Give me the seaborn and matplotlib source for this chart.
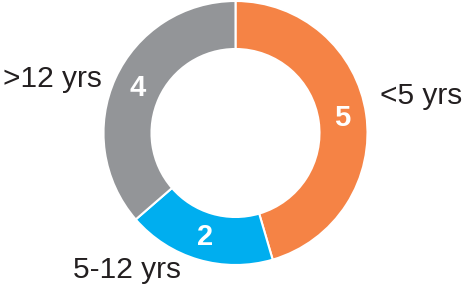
import matplotlib
matplotlib.use("Agg")
import matplotlib.pyplot as plt
import seaborn as sns

categories = ["<5 yrs", "5-12 yrs", ">12 yrs"]
values = [5, 2, 4]
colors = ["#F58345", "#00AEEF", "#939598"]

sns.set_theme(style="white")
plt.rcParams['font.family'] = ['Liberation Sans', 'DejaVu Sans']

W, H = 467, 291
fig = plt.figure(figsize=(W / 100, H / 100), dpi=100)
ax = fig.add_axes([0, 0, 1, 1])

R_OUT, R_IN = 132, 84
center = (235.5, H - 133)
total = sum(values)

wedges, _, autotexts = ax.pie(
    values, colors=colors, startangle=90, counterclock=False,
    radius=R_OUT, center=center, frame=True,
    wedgeprops=dict(width=R_OUT - R_IN, edgecolor="white", linewidth=1.5),
    autopct=lambda p: f"{round(p * total / 100)}",
    pctdistance=(R_OUT + R_IN) / 2 / R_OUT,
)
for t in autotexts:
    t.set_color("white")
    t.set_fontsize(21)
    t.set_fontweight("bold")

ax.set_xlim(0, W)
ax.set_ylim(0, H)
ax.set_aspect('equal')
ax.axis('off')

label_pos = [(380, H - 96), (73, H - 270), (3, H - 79)]
for name, (x, y) in zip(categories, label_pos):
    ax.text(x, y, name, ha="left", va="center", fontsize=21.5, color="#231F20")

fig.savefig("out.png", dpi=100)
